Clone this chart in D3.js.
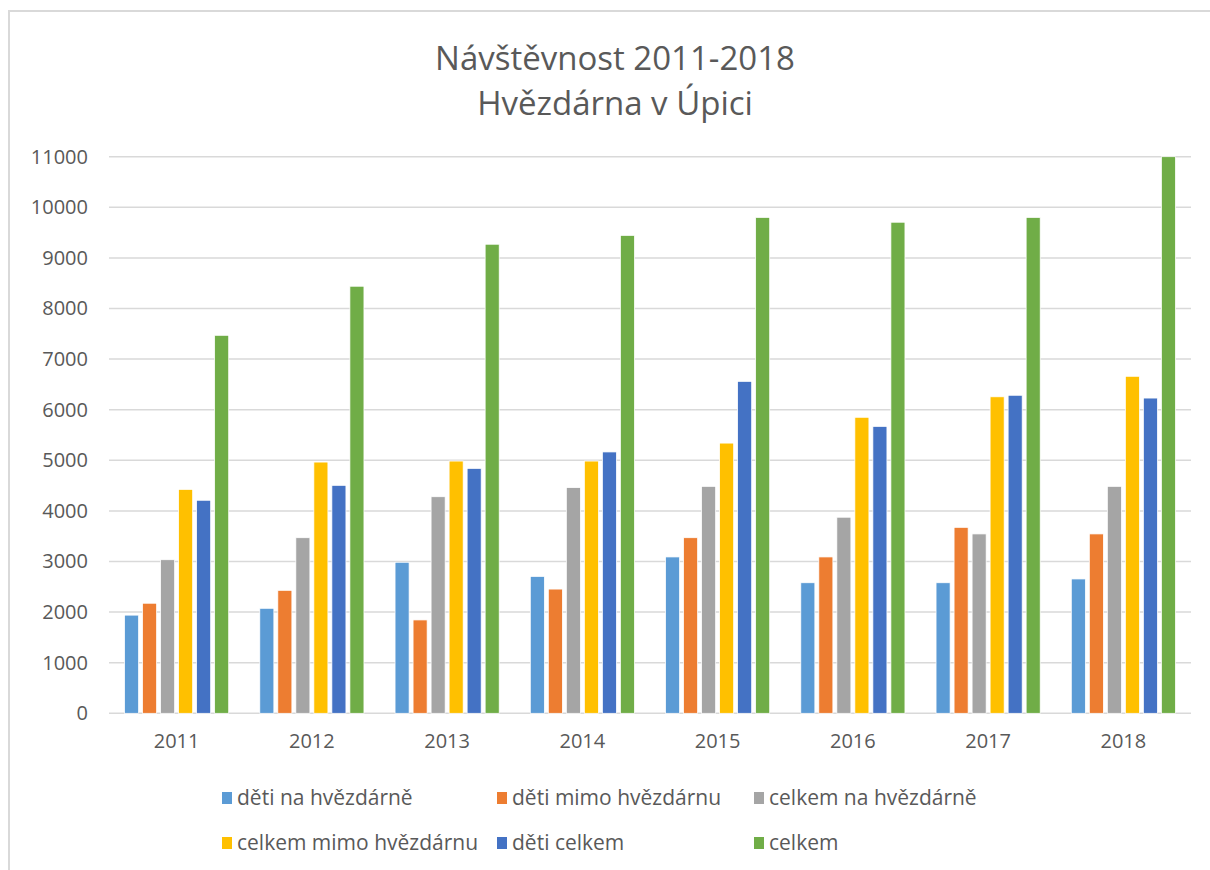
<html>
<head>
<meta charset="utf-8">
<title>Návštěvnost 2011-2018</title>
<script src="https://d3js.org/d3.v7.min.js"></script>
<style>
  body { margin: 0; background: #fff; }
  text { font-family: "Open Sans", sans-serif; fill: #595959; }
</style>
</head>
<body>
<div id="chart"></div>
<script>
// data
var years = ["2011", "2012", "2013", "2014", "2015", "2016", "2017", "2018"];
var seriesNames = ["děti na hvězdárně", "děti mimo hvězdárnu", "celkem na hvězdárně",
                   "celkem mimo hvězdárnu", "děti celkem", "celkem"];
var detiNa      = [1940, 2075, 2985, 2705, 3090, 2580, 2580, 2655];
var detiMimo    = [2175, 2430, 1845, 2455, 3470, 3090, 3675, 3545];
var celkemNa    = [3035, 3470, 4280, 4460, 4485, 3875, 3545, 4485];
var celkemMimo  = [4425, 4965, 4985, 4985, 5340, 5850, 6255, 6660];
var detiCelkem  = [4210, 4505, 4840, 5165, 6560, 5670, 6285, 6230];
var celkem      = [7470, 8440, 9270, 9445, 9800, 9705, 9800, 11000];
var yTicks = [0, 1000, 2000, 3000, 4000, 5000, 6000, 7000, 8000, 9000, 10000, 11000];
var colors = ["#5B9BD5", "#ED7D31", "#A5A5A5", "#FFC000", "#4472C4", "#70AD47"];

var allSeries = [detiNa, detiMimo, celkemNa, celkemMimo, detiCelkem, celkem];

var W = 1210, H = 870;
var svg = d3.select("#chart").append("svg")
    .attr("width", W).attr("height", H);

// chart frame (only top and left edges visible)
svg.append("path")
    .attr("d", "M9," + H + " L9,11 L" + W + ",11")
    .attr("fill", "none")
    .attr("stroke", "#d9d9d9")
    .attr("stroke-width", 2);

// title
svg.append("text").attr("x", 615).attr("y", 70)
    .attr("text-anchor", "middle").style("font-size", "33px")
    .text("Návštěvnost 2011-2018");
svg.append("text").attr("x", 615).attr("y", 115)
    .attr("text-anchor", "middle").style("font-size", "33px")
    .text("Hvězdárna v Úpici");

var plotLeft = 109, plotRight = 1191, plotTop = 156.7, plotBottom = 713.3;

var x0 = d3.scaleBand().domain(years).range([plotLeft, plotRight])
    .paddingInner(0.23).paddingOuter(0.115);
var x1 = d3.scaleBand().domain(d3.range(seriesNames.length))
    .range([0, x0.bandwidth()]).paddingInner(0.22);
var y = d3.scaleLinear().domain([0, 11000]).range([plotBottom, plotTop]);

// gridlines
svg.append("g")
    .selectAll("line").data(yTicks).enter().append("line")
    .attr("x1", plotLeft).attr("x2", plotRight)
    .attr("y1", function(d) { return y(d); })
    .attr("y2", function(d) { return y(d); })
    .attr("stroke", "#d9d9d9").attr("stroke-width", 1.5);

// y axis labels
var yAxis = svg.append("g")
    .attr("transform", "translate(" + plotLeft + ",0)")
    .call(d3.axisLeft(y).tickValues(yTicks).tickFormat(d3.format("d"))
        .tickSize(0).tickPadding(21));
yAxis.select(".domain").remove();
yAxis.selectAll("text").style("font-size", "20px").attr("fill", "#595959")
    .style("font-family", "'Open Sans', sans-serif");

// x axis labels
var xAxis = svg.append("g")
    .attr("transform", "translate(0," + plotBottom + ")")
    .call(d3.axisBottom(x0).tickSize(0).tickPadding(21));
xAxis.select(".domain").remove();
xAxis.selectAll("text").style("font-size", "20px").attr("fill", "#595959")
    .style("font-family", "'Open Sans', sans-serif");

// bars
var groups = svg.append("g").selectAll("g").data(years).enter().append("g")
    .attr("transform", function(d) { return "translate(" + x0(d) + ",0)"; });

groups.selectAll("rect")
    .data(function(d, i) {
        return allSeries.map(function(s, k) { return { k: k, v: s[i] }; });
    })
    .enter().append("rect")
    .attr("x", function(d) { return x1(d.k); })
    .attr("width", x1.bandwidth())
    .attr("y", function(d) { return y(d.v); })
    .attr("height", function(d) { return y(0) - y(d.v); })
    .attr("fill", function(d) { return colors[d.k]; })
    .attr("stroke", "#fff").attr("stroke-width", 0.75);

// legend
var legX = [222, 497, 754];
var legY = [798, 843];
var legend = svg.append("g").selectAll("g").data(seriesNames).enter().append("g")
    .attr("transform", function(d, i) {
        return "translate(" + legX[i % 3] + "," + legY[Math.floor(i / 3)] + ")";
    });
legend.append("rect")
    .attr("x", 0).attr("y", -6).attr("width", 10).attr("height", 12)
    .attr("fill", function(d, i) { return colors[i]; });
legend.append("text")
    .attr("x", 15).attr("y", 7)
    .style("font-size", "21px")
    .text(function(d) { return d; });
</script>
</body>
</html>
